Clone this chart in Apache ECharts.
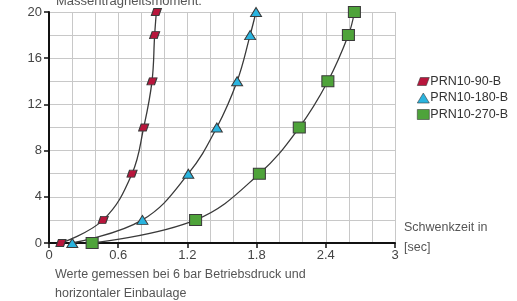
<!DOCTYPE html>
<html>
<head>
<meta charset="utf-8">
<style>html,body{margin:0;padding:0;background:#fff}#main{width:517px;height:301px}</style>
<script src="https://cdn.jsdelivr.net/npm/echarts@6/dist/echarts.min.js"></script>
</head>
<body>
<div id="main"></div>
<script>
// Schwenkzeit [sec] bei Massenträgheitsmoment 0..20
var momente = [0, 2, 6, 10, 14, 18, 20];
var zeit90  = [0.104, 0.470, 0.720, 0.821, 0.893, 0.916, 0.931];
var zeit180 = [0.202, 0.810, 1.208, 1.455, 1.631, 1.744, 1.795];
var zeit270 = [0.374, 1.271, 1.824, 2.170, 2.418, 2.596, 2.648];
var namen = ['PRN10-90-B', 'PRN10-180-B', 'PRN10-270-B'];

function paare(xs) {
    return xs.map(function (x, i) { return [x, momente[i]]; });
}

var font = '"Liberation Sans", Arial, sans-serif';
var raute = 'path://M3,0 L12,0 L9,8 L0,8 Z';
var myChart = echarts.init(document.getElementById('main'));

function serie(name, data, symbol, size, color) {
    return {
        name: name,
        type: 'line',
        smooth: 0.4,
        data: paare(data),
        symbol: symbol,
        symbolSize: size,
        showAllSymbol: true,
        lineStyle: {color: '#3a3a3a', width: 1.3},
        itemStyle: {color: color, borderColor: '#3a3a3a', borderWidth: 1},
        z: 3
    };
}

var option = {
    animation: false,
    textStyle: {fontFamily: font},
    grid: {left: 49, right: 122, top: 12, bottom: 58},
    legend: {
        orient: 'vertical',
        left: 417, top: 75,
        padding: 0,
        itemGap: 3.5,
        itemWidth: 12, itemHeight: 10,
        itemStyle: {borderWidth: 0.6},
        textStyle: {fontFamily: font, fontSize: 12.5, color: '#333', padding: [0, 0, 0, -4]},
        data: [
            {name: namen[0], icon: raute},
            {name: namen[1], icon: 'triangle'},
            {name: namen[2], icon: 'rect'}
        ]
    },
    graphic: [
        {type: 'text', x: 56, y: -5,
         style: {text: 'Massenträgheitsmoment:', font: '13px ' + font, fill: '#555'}},
        {type: 'text', x: 404, y: 218,
         style: {text: 'Schwenkzeit in\n[sec]', font: '12.5px ' + font, fill: '#555', lineHeight: 20}},
        {type: 'text', x: 55, y: 265,
         style: {text: 'Werte gemessen bei 6 bar Betriebsdruck und\nhorizontaler Einbaulage',
                 font: '12.5px ' + font, fill: '#555', lineHeight: 19}}
    ],
    xAxis: {
        type: 'value', min: 0, max: 3, interval: 0.6,
        axisLine: {lineStyle: {color: '#111', width: 2}},
        axisTick: {show: true, length: 5, lineStyle: {color: '#111', width: 1.5}},
        axisLabel: {color: '#444', fontSize: 13, margin: 6},
        splitLine: {lineStyle: {color: '#c8c8c8', width: 1}},
        minorTick: {show: false, splitNumber: 3},
        minorSplitLine: {show: true, lineStyle: {color: '#c8c8c8', width: 1}}
    },
    yAxis: {
        type: 'value', min: 0, max: 20, interval: 4,
        axisLine: {show: true, lineStyle: {color: '#111', width: 2}},
        axisTick: {show: true, length: 5, lineStyle: {color: '#111', width: 1.5}},
        axisLabel: {color: '#444', fontSize: 13, margin: 7},
        splitLine: {lineStyle: {color: '#c8c8c8', width: 1}},
        minorTick: {show: false, splitNumber: 2},
        minorSplitLine: {show: true, lineStyle: {color: '#c8c8c8', width: 1}}
    },
    series: [
        serie(namen[0], zeit90, raute, [10, 7], '#b8163c'),
        serie(namen[1], zeit180, 'triangle', [11, 9], '#2ab4df'),
        serie(namen[2], zeit270, 'rect', [12, 11], '#4ea33a')
    ]
};

myChart.setOption(option);
</script>
</body>
</html>
